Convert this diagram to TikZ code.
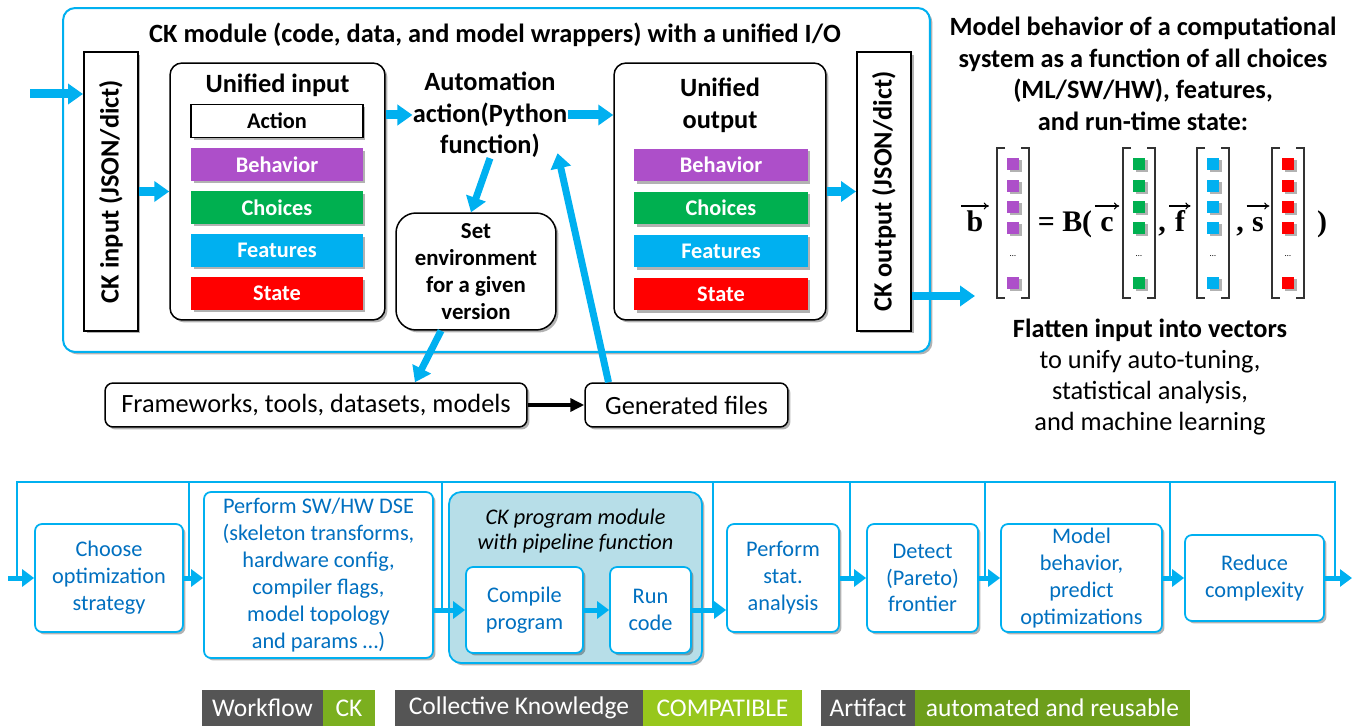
\documentclass[tikz,border=0pt]{standalone}
\usepackage{fontspec}
\setmainfont{Carlito}
\newfontfamily\timesfont{Liberation Serif}
\usetikzlibrary{arrows.meta,positioning,shadows}

\definecolor{ckcyan}{HTML}{00B0F0}
\definecolor{ckpurple}{HTML}{AD4FC9}
\definecolor{ckgreen}{HTML}{00B050}
\definecolor{ckred}{HTML}{FF0000}
\definecolor{cktext}{HTML}{0070C0}
\definecolor{ckteal}{HTML}{B7DEE8}
\definecolor{badgegray}{HTML}{555555}
\definecolor{badgeck}{HTML}{7BAF1F}
\definecolor{badgecompat}{HTML}{97C71C}
\definecolor{badgeart}{HTML}{6D9E1B}

\tikzset{
    softshadow/.style={drop shadow={shadow xshift=0.05cm, shadow yshift=-0.05cm, opacity=0.3, fill=black}},
    flow/.style={ckcyan, line width=0.18cm, -{Triangle[width=0.4cm, length=0.3cm]}},
    pflow/.style={ckcyan, line width=0.1cm, -{Triangle[width=0.34cm, length=0.24cm]}},
    bus/.style={ckcyan, line width=0.035cm},
    vecarrow/.style={line width=0.6pt, -{To[length=3pt, width=4pt]}}
}

\begin{document}
\begin{tikzpicture}[
    x=0.02cm, y=-0.02cm,
    bigbf/.style={font=\fontsize{15}{18}\selectfont\bfseries},
    module/.style={rectangle, draw=ckcyan, line width=0.04cm, rounded corners=0.24cm, fill=white, minimum width=17.34cm, minimum height=6.88cm, softshadow},
    iobox/.style={rectangle, draw, line width=0.04cm, fill=white, rotate=90, minimum width=5.58cm, minimum height=1.08cm, softshadow, bigbf},
    unibox/.style={rectangle, draw, line width=0.03cm, rounded corners=0.24cm, fill=white, minimum height=5.14cm, softshadow},
    item/.style={rectangle, minimum width=3.44cm, minimum height=0.66cm, inner sep=0pt, text=white, font=\fontsize{12.7}{15}\selectfont\bfseries, softshadow},
    plainbox/.style={rectangle, draw, line width=0.03cm, rounded corners=0.16cm, fill=white, minimum height=0.88cm, font=\fontsize{15}{18}\selectfont, softshadow},
    stage/.style={rectangle, draw=ckcyan, line width=0.035cm, rounded corners=0.14cm, fill=white, text=cktext, align=center, font=\fontsize{12.7}{15.3}\selectfont, minimum height=2.16cm, inner sep=0pt, softshadow},
    vsq/.style={rectangle, minimum size=0.24cm, inner sep=0pt, softshadow},
    vecsym/.style={anchor=base, inner sep=0pt, font=\fontsize{17}{20}\selectfont\timesfont\bfseries},
    badge/.style={rectangle, minimum height=0.72cm, inner sep=0pt, outer sep=0pt, text=white, font=\fontsize{14.5}{16}\selectfont}
]
\useasboundingbox (0,0) rectangle (1353,726);

% CK module with unified I/O
\node[module] (module) at (496.5,180) {};
\node[bigbf] (module-title) at (495,35) {CK module (code, data, and model wrappers) with a unified I/O};

\node[iobox] (ck-in) at (111,191.5) {CK input (JSON/dict)};
\node[unibox, minimum width=4.3cm] (uni-in) at (277.5,191.5) {};
\node[bigbf] (uni-in-title) at (277.5,85) {Unified input};
\node[item, draw=black, line width=0.03cm, fill=white, text=black] (in-Action) at (277,121) {Action};
\foreach \lbl/\col/\y in {Behavior/ckpurple/164.5, Choices/ckgreen/207.5, Features/ckcyan/250.5, State/ckred/293.5} {
    \node[item, fill=\col] (in-\lbl) at (277,\y) {\lbl};
}

\node[bigbf, align=center, inner sep=0pt] (action) at (490,115) {Automation\\action(Python\\function)};

\node[rectangle, draw, line width=0.03cm, rounded corners=0.4cm, fill=white, minimum width=3.2cm, minimum height=2.34cm, align=center, font=\fontsize{13}{15.3}\selectfont\bfseries, softshadow] (set-env) at (476,271.5) {Set\\environment\\for a given\\version};

\node[unibox, minimum width=4.24cm] (uni-out) at (720,191.5) {};
\node[bigbf, align=center] (uni-out-title) at (720,105) {Unified\\output};
\foreach \lbl/\col/\y in {Behavior/ckpurple/165, Choices/ckgreen/208, Features/ckcyan/251, State/ckred/294} {
    \node[item, minimum width=3.48cm, fill=\col] (out-\lbl) at (721,\y) {\lbl};
}
\node[iobox] (ck-out) at (884,191.5) {CK output (JSON/dict)};

% Frameworks and generated files
\node[plainbox, minimum width=8.44cm] (frameworks) at (316,405) {Frameworks, tools, datasets, models};
\node[plainbox, minimum width=4.06cm] (generated) at (686.5,405) {Generated files};

% Arrows in the module
\coordinate (feed) at (30,94);
\coordinate (vec-in) at (975,296);
\draw[flow] (feed) -- (feed -| ck-in.north);
\draw[flow] (ck-in.south) -- (uni-in.west);
\draw[flow] (uni-in.east |- action) -- (action.west);
\draw[flow] (action.east) -- (uni-out.west |- action);
\draw[flow] (uni-out.east) -- (ck-out.north);
\draw[flow] (ck-out.south |- vec-in) -- (vec-in);
\draw[flow, line width=0.14cm] (action.south) -- ([xshift=-0.1cm]set-env.north);
\draw[flow, line width=0.14cm] ([xshift=-0.7cm]set-env.south) -- ([xshift=1.98cm]frameworks.north);
\draw[-{Triangle[width=0.26cm, length=0.28cm]}, line width=0.08cm] (frameworks) -- (generated);
\draw[flow, line width=0.14cm] ([xshift=-1.56cm]generated.north) -- ([xshift=-0.2cm, yshift=0.1cm]action.south east);

% Vector model on the right
\node[bigbf, align=center] (model-text) at (1143,74) {Model behavior of a computational\\system as a function of all choices\\(ML/SW/HW), features,\\and run-time state:};

\foreach \bx/\col in {997/ckpurple, 1123/ckgreen, 1197/ckcyan, 1272/ckred} {
    \draw[line width=0.03cm, black!80] (\bx+8,148) -- (\bx,148) -- (\bx,298) -- (\bx+8,298);
    \draw[line width=0.03cm, black!80] (\bx+24,148) -- (\bx+32,148) -- (\bx+32,298) -- (\bx+24,298);
    \foreach \sy in {164,186,207,228,283} {
        \node[vsq, fill=\col] (sq-\bx-\sy) at (\bx+16,\sy) {};
    }
    \node[font=\tiny] (dots-\bx) at (\bx+16,256) {\dots};
}
\node[vecsym] (vec-b) at (975,232) {b};
\node[vecsym] (op-B) at (1065,232) {= B(};
\node[vecsym] (vec-c) at (1107,232) {c};
\node[vecsym] (comma-f) at (1162,232) {,};
\node[vecsym] (vec-f) at (1180,232) {f};
\node[vecsym] (comma-s) at (1240,232) {,};
\node[vecsym] (vec-s) at (1258,232) {s};
\node[vecsym] (close-B) at (1322,232) {)};
\foreach \v in {vec-b, vec-c, vec-f, vec-s} {
    \draw[vecarrow] ([xshift=-3pt]\v.west |- 0,206) -- ([xshift=3pt]\v.east |- 0,206);
}

\node[align=center, font=\fontsize{15}{17.6}\selectfont] (flatten-text) at (1150,377) {\textbf{Flatten input into vectors}\\to unify auto-tuning,\\statistical analysis,\\and machine learning};

% Optimization pipeline
\draw[bus] (17,578) |- (1335,482) -- (1335,578);
\foreach \bx/\by in {189/578, 442/610, 713/610, 850/578, 985/578, 1170/578} {
    \draw[bus] (\bx,482) -- (\bx,\by);
}

\node[stage, minimum width=2.96cm] (choose) at (109,578) {Choose\\optimization\\strategy};
\node[stage, minimum width=4.58cm, minimum height=3.32cm] (dse) at (318.5,575) {Perform SW/HW DSE\\(skeleton transforms,\\hardware config,\\compiler flags,\\model topology\\and params …)};
\node[stage, fill=ckteal, minimum width=5.06cm, minimum height=3.42cm, rounded corners=0.24cm] (ck-prog) at (575.5,577.5) {};
\node[font=\fontsize{12.7}{14.7}\selectfont\itshape, align=center] (ck-prog-title) at (575.5,531) {CK program module\\with pipeline function};
\node[stage, minimum width=2.34cm, minimum height=1.72cm] (compile) at (524.5,610) {Compile\\program};
\node[stage, minimum width=1.62cm, minimum height=1.72cm] (run) at (650.5,610) {Run\\code};
\node[stage, minimum width=2.24cm] (stat) at (783,578) {Perform\\stat.\\analysis};
\node[stage, minimum width=2.22cm] (pareto) at (922.5,578) {Detect\\(Pareto)\\frontier};
\node[stage, minimum width=3.22cm] (predict) at (1081.5,578) {Model\\behavior,\\predict\\optimizations};
\node[stage, minimum width=2.78cm, minimum height=1.72cm] (reduce) at (1254.5,578) {Reduce\\complexity};

\coordinate (pipe-in) at (8,578);
\coordinate (pipe-out) at (1352,578);
\draw[pflow] (pipe-in) -- (choose);
\draw[pflow] (choose) -- (dse.west |- choose);
\draw[pflow] (dse.east |- compile) -- (compile);
\draw[pflow] (compile) -- (run);
\draw[pflow] (run) -- (stat.west |- run);
\draw[pflow] (stat) -- (pareto);
\draw[pflow] (pareto) -- (predict);
\draw[pflow] (predict) -- (reduce);
\draw[pflow] (reduce) -- (pipe-out);

% Badges
\node[badge, fill=badgegray, minimum width=2.42cm] (wf-l) at (262.5,708) {Workflow};
\node[badge, fill=badgeck, minimum width=1.04cm, right=0pt of wf-l] (wf-r) {CK};
\node[badge, fill=badgegray, minimum width=4.96cm] (ck-l) at (519,708) {Collective Knowledge};
\node[badge, fill=badgecompat, minimum width=3.18cm, right=0pt of ck-l] (ck-r) {COMPATIBLE};
\node[badge, fill=badgegray, minimum width=1.88cm] (art-l) at (868,708) {Artifact};
\node[badge, fill=badgeart, minimum width=5.5cm, right=0pt of art-l] (art-r) {automated and reusable};

\end{tikzpicture}
\end{document}
